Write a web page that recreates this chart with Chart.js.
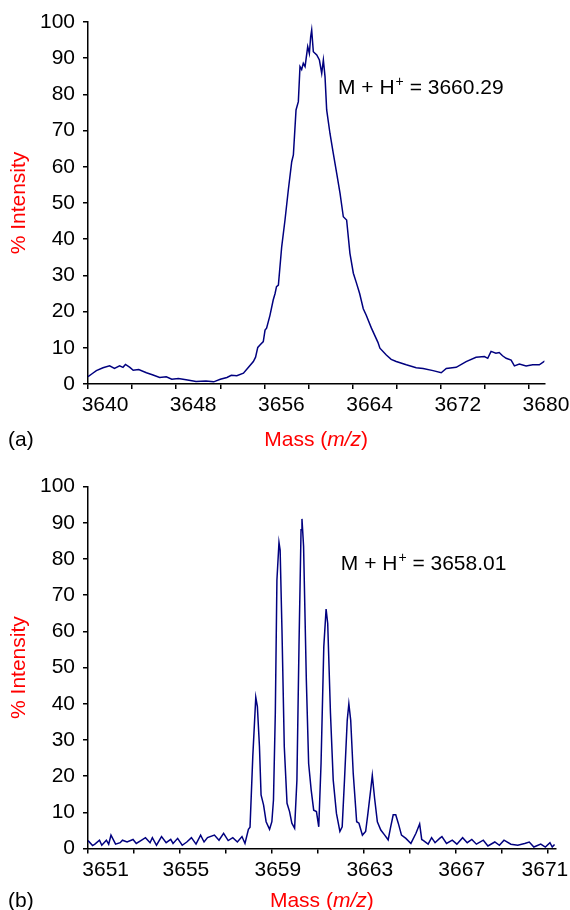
<!DOCTYPE html>
<html>
<head>
<meta charset="utf-8">
<title>MALDI spectra</title>
<script src="https://cdn.jsdelivr.net/npm/chart.js@4.4.1/dist/chart.umd.min.js"></script>
<style>
  html, body { margin: 0; padding: 0; background: #fff; }
  .panel { position: absolute; left: 0; width: 570px; height: 455px; }
  #panelA { top: 0; }
  #panelB { top: 455px; }
</style>
</head>
<body>
<div class="panel" id="panelA"><canvas id="chartA" width="570" height="455"></canvas></div>
<div class="panel" id="panelB"><canvas id="chartB" width="570" height="455"></canvas></div>
<script>
// (a) broad unresolved peak
const massA = [3640.0, 3640.4, 3640.76, 3641.36, 3641.96, 3642.4, 3642.87, 3643.17, 3643.4, 3643.8,
  3644.1, 3644.6, 3645.3, 3645.9, 3646.5, 3647.1, 3647.6, 3648.2, 3648.9, 3649.8,
  3650.7, 3651.4, 3652.0, 3652.6, 3653.0, 3653.5, 3654.1, 3654.5, 3655.0, 3655.2,
  3655.4, 3655.6, 3655.9, 3656.06, 3656.2, 3656.5, 3656.8, 3656.97, 3657.1, 3657.27,
  3657.57, 3657.87, 3658.17, 3658.48, 3658.63, 3658.87, 3659.08, 3659.23, 3659.38, 3659.53,
  3659.69, 3659.93, 3660.08, 3660.2, 3660.29, 3660.44, 3660.75, 3660.99, 3661.2, 3661.35,
  3661.5, 3661.65, 3661.95, 3662.25, 3662.56, 3662.86, 3663.16, 3663.46, 3663.76, 3664.07,
  3664.34, 3664.64, 3664.97, 3665.24, 3665.7, 3666.3, 3666.48, 3667.06, 3667.5, 3667.96,
  3668.87, 3669.77, 3670.4, 3671.3, 3672.04, 3672.5, 3673.4, 3674.3, 3675.2, 3675.96,
  3676.26, 3676.56, 3677.0, 3677.3, 3677.6, 3677.93, 3678.38, 3678.68, 3679.13, 3679.74,
  3680.34, 3680.94, 3681.45];
const intensityA = [2.0, 2.9, 3.7, 4.5, 5.0, 4.3, 5.0, 4.6, 5.4, 4.6,
  3.8, 4.0, 3.1, 2.5, 1.8, 2.0, 1.3, 1.5, 1.2, 0.7,
  0.8, 0.6, 1.3, 1.8, 2.4, 2.3, 3.0, 4.4, 6.2, 7.4,
  10.1, 10.8, 11.7, 14.9, 15.4, 18.9, 23.2, 25.0, 26.9, 27.3,
  37.9, 45.3, 53.6, 61.4, 63.3, 75.7, 78.0, 87.7, 86.9, 88.6,
  87.7, 93.2, 91.3, 96.0, 97.8, 91.8, 90.9, 89.5, 85.8, 89.5,
  84.9, 75.7, 69.2, 63.7, 58.2, 52.7, 46.2, 45.3, 36.1, 30.6,
  28.0, 25.0, 20.8, 19.0, 15.5, 11.5, 9.9, 8.0, 6.8, 6.2,
  5.3, 4.5, 4.3, 3.7, 3.1, 4.3, 4.6, 6.2, 7.4, 7.6,
  7.1, 9.0, 8.5, 8.7, 7.8, 7.1, 6.6, 5.0, 5.5, 5.0,
  5.3, 5.3, 6.4];

// (b) isotopically resolved peaks
const massB = [3651.0, 3651.2, 3651.3, 3651.5, 3651.6, 3651.8, 3651.9, 3652.0, 3652.2, 3652.4,
  3652.5, 3652.7, 3652.96, 3653.1, 3653.3, 3653.5, 3653.7, 3653.8, 3653.98, 3654.2,
  3654.4, 3654.6, 3654.7, 3654.9, 3655.1, 3655.3, 3655.5, 3655.7, 3655.9, 3656.05,
  3656.2, 3656.5, 3656.7, 3656.9, 3657.1, 3657.3, 3657.5, 3657.7, 3657.83, 3657.98,
  3658.05, 3658.17, 3658.30, 3658.37, 3658.46, 3658.53, 3658.64, 3658.75, 3658.9, 3659.0,
  3659.07, 3659.15, 3659.22, 3659.31, 3659.36, 3659.44, 3659.54, 3659.66, 3659.77, 3659.87,
  3659.99, 3660.09, 3660.18, 3660.27, 3660.31, 3660.38, 3660.5, 3660.6, 3660.71, 3660.82,
  3660.94, 3661.04, 3661.14, 3661.26, 3661.36, 3661.43, 3661.55, 3661.67, 3661.81, 3661.96,
  3662.06, 3662.16, 3662.28, 3662.35, 3662.43, 3662.54, 3662.69, 3662.79, 3662.94, 3663.08,
  3663.18, 3663.3, 3663.37, 3663.47, 3663.59, 3663.74, 3663.91, 3664.06, 3664.17, 3664.28,
  3664.39, 3664.5, 3664.64, 3664.83, 3665.05, 3665.27, 3665.43, 3665.52, 3665.6, 3665.8,
  3665.95, 3666.1, 3666.3, 3666.4, 3666.6, 3666.85, 3667.05, 3667.3, 3667.5, 3667.7,
  3667.9, 3668.2, 3668.4, 3668.7, 3668.9, 3669.1, 3669.4, 3669.7, 3670.0, 3670.2,
  3670.4, 3670.7, 3670.9, 3671.1, 3671.2, 3671.3];
const intensityB = [2.2, 0.8, 1.2, 2.3, 0.9, 2.3, 1.2, 3.7, 1.2, 1.6,
  2.3, 1.8, 2.5, 1.4, 2.2, 3.0, 1.6, 3.0, 0.9, 3.3,
  1.6, 2.5, 1.4, 2.8, 0.9, 1.8, 3.0, 1.2, 3.7, 1.8,
  3.0, 3.7, 2.3, 4.2, 2.2, 3.0, 1.8, 3.3, 1.4, 5.3,
  5.9, 25.4, 41.8, 39.2, 28.2, 14.8, 12.0, 7.4, 5.3, 7.4,
  13.4, 37.4, 74.2, 84.6, 82.5, 60.4, 28.2, 12.5, 10.2, 7.0,
  5.6, 18.9, 55.8, 88.1, 91.1, 83.5, 46.6, 23.5, 16.2, 10.6,
  10.2, 6.0, 23.5, 55.8, 66.2, 62.2, 37.4, 18.9, 9.7, 4.7,
  6.0, 18.9, 35.5, 40.0, 35.5, 20.8, 7.4, 7.0, 3.7, 4.7,
  9.7, 16.2, 20.2, 13.9, 7.4, 5.1, 3.7, 2.4, 6.0, 9.3,
  9.3, 7.0, 3.7, 2.8, 1.4, 4.2, 6.8, 2.5, 2.2, 1.2,
  3.0, 1.6, 2.8, 3.3, 1.4, 2.3, 1.2, 3.0, 1.6, 2.5,
  1.2, 2.3, 0.7, 1.8, 0.9, 2.3, 1.2, 0.9, 1.4, 1.8,
  0.4, 1.2, 0.4, 1.6, 0.4, 1.1];

// axis ticks (every tick gets a mark, only the labelled ones get text)
const ticksA = [3640, 3644, 3648, 3652, 3656, 3660, 3664, 3668, 3672, 3676, 3680];
const labelsA = [3640, 3648, 3656, 3664, 3672, 3680];
const ticksB = [3651, 3653, 3655, 3657, 3659, 3661, 3663, 3665, 3667, 3669, 3671];
const labelsB = [3651, 3655, 3659, 3663, 3667, 3671];

const FONT = '"Liberation Sans", Arial, Helvetica, sans-serif';
Chart.defaults.font.family = FONT;
Chart.defaults.font.size = 21;
Chart.defaults.color = '#000';

// axis titles, panel letter and the M + H+ note
const textPlugin = {
    id: 'panelText',
    afterDraw(chart, args, o) {
        const ctx = chart.ctx;
        const area = chart.chartArea;
        ctx.save();
        ctx.textBaseline = 'alphabetic';

        // y title
        ctx.fillStyle = '#ff0000';
        ctx.font = '21px ' + FONT;
        ctx.translate(25, (area.top + area.bottom) / 2);
        ctx.rotate(-Math.PI / 2);
        ctx.textAlign = 'center';
        ctx.fillText('% Intensity', 0, 0);
        ctx.setTransform(1, 0, 0, 1, 0, 0);

        // x title: Mass (m/z) with italic m/z
        const y = area.bottom + o.titleGap;
        const parts = [['Mass (', ''], ['m/z', 'italic '], [')', '']];
        let w = 0;
        parts.forEach(p => { ctx.font = p[1] + '21px ' + FONT; w += ctx.measureText(p[0]).width; });
        let x = (area.left + area.right) / 2 - w / 2;
        ctx.textAlign = 'left';
        parts.forEach(p => {
            ctx.font = p[1] + '21px ' + FONT;
            ctx.fillText(p[0], x, y);
            x += ctx.measureText(p[0]).width;
        });

        // panel letter
        ctx.fillStyle = '#000';
        ctx.font = '21px ' + FONT;
        ctx.fillText(o.letter, 8, y);

        // note
        let nx = chart.scales.x.getPixelForValue(o.noteX);
        const ny = chart.scales.y.getPixelForValue(o.noteY);
        ctx.fillText('M + H', nx, ny);
        nx += ctx.measureText('M + H').width + 1;
        ctx.font = '14px ' + FONT;
        ctx.fillText('+', nx, ny - 8);
        nx += ctx.measureText('+').width;
        ctx.font = '21px ' + FONT;
        ctx.fillText(' = ' + o.noteValue, nx, ny);
        ctx.restore();
    }
};

function makeChart(id, mass, intensity, xMin, xMax, ticks, labelText, labelOffset, padding, text) {
    const points = mass.map((m, i) => ({ x: m, y: intensity[i] }));
    return new Chart(document.getElementById(id), {
        type: 'line',
        data: {
            datasets: [{
                data: points,
                borderColor: '#00007f',
                borderWidth: 1.5,
                pointRadius: 0,
                tension: 0,
                fill: false
            }]
        },
        options: {
            responsive: false,
            animation: false,
            devicePixelRatio: 1,
            layout: { padding: padding },
            plugins: {
                legend: { display: false },
                tooltip: { enabled: false },
                panelText: text
            },
            scales: {
                x: {
                    type: 'linear',
                    min: xMin,
                    max: xMax,
                    afterBuildTicks: s => { s.ticks = ticks.map(v => ({ value: v })); },
                    afterFit: s => {
                        s.height = 40;
                        // let the layout padding alone decide the plot width
                        s.paddingLeft = 0;
                        s.paddingRight = 0;
                    },
                    border: { display: true, color: '#000', width: 1.5 },
                    grid: { drawOnChartArea: false, drawTicks: true, tickLength: 5, tickColor: '#000', lineWidth: 1.5 },
                    ticks: {
                        autoSkip: false,
                        maxRotation: 0,
                        padding: 4,
                        labelOffset: labelOffset,
                        callback: labelText
                    }
                },
                y: {
                    min: 0,
                    max: 100,
                    afterFit: s => { s.width = 88; },
                    border: { display: true, color: '#000', width: 1.5 },
                    grid: { drawOnChartArea: false, drawTicks: true, tickLength: 5, tickColor: '#000', lineWidth: 1.5 },
                    ticks: { stepSize: 10, padding: 8, callback: v => String(v) }
                }
            }
        },
        plugins: [textPlugin]
    });
}

makeChart('chartA', massA, intensityA, 3640, 3681.4, ticksA,
    v => labelsA.includes(v) ? String(v) : '', 17,
    { top: 22, right: 25.6, bottom: 31, left: 0 },
    { letter: '(a)', titleGap: 62, noteX: 3662.68, noteY: 80.1, noteValue: '3660.29' });

// labels in (b) sit a little right of their ticks, the end ones nudged inwards
makeChart('chartB', massB, intensityB, 3651, 3671.35, ticksB,
    v => {
        if (!labelsB.includes(v)) return '';
        if (v === labelsB[0]) return '    ' + v;
        if (v === labelsB[labelsB.length - 1]) return v + '   ';
        return String(v);
    }, 6,
    { top: 31.7, right: 14.3, bottom: 21.5, left: 0 },
    { letter: '(b)', titleGap: 58, noteX: 3662.0, noteY: 77.0, noteValue: '3658.01' });
</script>
</body>
</html>
